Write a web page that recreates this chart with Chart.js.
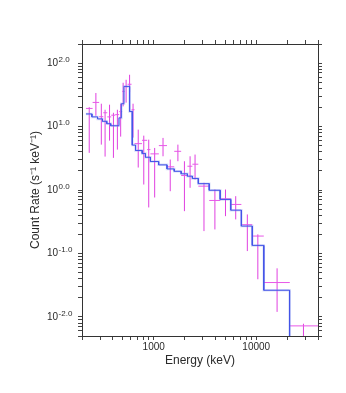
<!DOCTYPE html>
<html><head><meta charset="utf-8">
<script src="https://cdn.jsdelivr.net/npm/chart.js@4.4.1/dist/chart.umd.min.js"></script>
<style>html,body{margin:0;padding:0;background:#fff;}#wrap{width:346px;height:393px;position:relative;}</style>
</head><body><div id="wrap"><canvas id="c" width="346" height="393"></canvas></div>
<script>
// Model (step) bin edges in keV and model count rates
const modelEdges = [218.6, 249.8, 283.6, 316.9, 348.9, 381.3, 458.7, 483.9, 512.8, 582.1, 618.2, 665.3, 772.3, 831.2, 929.1, 1118, 1348, 1586, 1853, 2132, 2384, 2724, 3480, 4446, 5642, 7159, 9147, 11844, 21135, 40000];
const modelValues = [15.8, 14.2, 13.2, 12.1, 11.1, 10.3, 13.7, 22.9, 42.9, 17.3, 5.1, 4.2, 3.75, 3.28, 2.81, 2.49, 2.15, 1.97, 1.80, 1.65, 1.52, 1.26, 0.99, 0.71, 0.481, 0.270, 0.134, 0.0263, 0.003];

// Data points: bin low / high edges, centre energy, rate, upper and lower error limits
const dataLo = [218.6, 253.7, 293.9, 322.6, 352.7, 385.6, 421.5, 460.7, 492.6, 520.7, 556.6, 608.5, 650.6, 768.9, 863.4, 929.1, 1123, 1348, 1586, 1853, 2132, 2384, 2724, 3480, 4467, 5681, 7159, 9147, 11844, 21229];
const dataHi = [253.7, 293.9, 322.6, 352.7, 385.6, 421.5, 460.7, 492.6, 520.7, 556.6, 608.5, 650.6, 768.9, 863.4, 929.1, 1123, 1348, 1586, 1853, 2132, 2384, 2724, 3480, 4467, 5681, 7159, 9147, 11844, 21229, 40000];
const dataE = [235.2, 273.1, 308.6, 335.8, 371.2, 405.0, 442.6, 476.4, 503.6, 538.4, 582.1, 629.2, 706.6, 800.3, 894.5, 1022, 1233, 1450, 1722, 1994, 2264, 2531, 3093, 3952, 5013, 6306, 8185, 10363, 15966, 28863];
const dataRate = [19.3, 24.0, 14.3, 16.5, 14.2, 15.1, 15.4, 17.2, 35.8, 42.4, 46.4, 18.4, 5.38, 6.07, 4.33, 3.71, 5.01, 2.32, 4.07, 1.69, 2.37, 2.55, 1.15, 0.684, 0.727, 0.592, 0.284, 0.188, 0.0348, 0.00722];
const dataUpper = [20.2, 33.8, 22.9, 18.4, 22.1, 16.5, 18.4, 22.9, 49.0, 54.6, 65.5, 22.9, 8.94, 7.19, 6.22, 4.6, 6.62, 3.02, 5.19, 2.84, 3.40, 3.62, 1.30, 1.018, 1.018, 0.799, 0.412, 0.20, 0.0583, 0.0078];
const dataLower = [3.85, 14.8, 5.19, 3.36, 6.00, 3.21, 4.33, 6.94, 20.8, 23.8, 34.1, 6.69, 2.26, 1.22, 0.531, 0.762, 3.40, 0.957, 2.84, 0.464, 1.083, 1.46, 0.225, 0.239, 0.387, 0.344, 0.109, 0.0392, 0.012, 0.001];

// Axis ticks
const xMajor = [1000, 10000];
const xTicks = [200,300,400,500,600,700,800,900,1000,2000,3000,4000,5000,6000,7000,8000,9000,10000,20000,30000,40000];
const yMajor = [0.01, 0.1, 1, 10, 100];
const yMajorExp = ["-2.0", "-1.0", "0.0", "1.0", "2.0"];
const yTicks = [0.005,0.006,0.007,0.008,0.009,0.01,0.02,0.03,0.04,0.05,0.06,0.07,0.08,0.09,0.1,0.2,0.3,0.4,0.5,0.6,0.7,0.8,0.9,1,2,3,4,5,6,7,8,9,10,20,30,40,50,60,70,80,90,100,200];

const FONT = '"Liberation Sans", Arial, Helvetica, sans-serif';
const INK = '#2a2a2a';
const AXIS = '#333';

const modelPts = [];
modelValues.forEach((v, i) => { modelPts.push({x: modelEdges[i], y: v}, {x: modelEdges[i+1], y: v}); });
const hPts = [], vPts = [];
dataE.forEach((e, i) => {
  hPts.push({x: dataLo[i], y: dataRate[i]}, {x: dataHi[i], y: dataRate[i]}, {x: dataHi[i], y: null});
  vPts.push({x: e, y: dataLower[i]}, {x: e, y: dataUpper[i]}, {x: e, y: null});
});

const supLabels = {
  id: 'supLabels',
  afterDraw(chart) {
    const s = chart.scales.y, ctx = chart.ctx;
    ctx.save();
    ctx.fillStyle = INK;
    ctx.textAlign = 'left';
    ctx.textBaseline = 'middle';
    yMajor.forEach((v, i) => {
      const y = s.getPixelForValue(v);
      ctx.font = '10px ' + FONT;
      ctx.fillText('10', 47, y);
      const w = ctx.measureText('10').width;
      ctx.font = '8px ' + FONT;
      ctx.fillText(yMajorExp[i], 47 + w + 0.5, y - 3.5);
    });
    ctx.restore();
  }
};

const gridOpt = {drawOnChartArea: false, tickLength: 4, color: '#444', tickColor: '#444', lineWidth: 1};
const borderOpt = {display: true, color: AXIS, width: 1};
const setX = s => { s.ticks = xTicks.map(v => ({value: v, major: xMajor.includes(v)})); };
const setY = s => { s.ticks = yTicks.map(v => ({value: v, major: yMajor.includes(v)})); };

new Chart(document.getElementById('c'), {
  type: 'scatter',
  data: {
    datasets: [
      {data: hPts, showLine: true, spanGaps: false, borderColor: '#e858e8', borderWidth: 1, pointRadius: 0, order: 3},
      {data: vPts, showLine: true, spanGaps: false, borderColor: '#e040e0', borderWidth: 1, pointRadius: 0, order: 3},
      {data: modelPts, showLine: true, borderColor: 'rgba(140,155,235,0.35)', borderWidth: 2.5, pointRadius: 0, order: 2},
      {data: modelPts, showLine: true, borderColor: '#4354e8', borderWidth: 1, pointRadius: 0, order: 1}
    ]
  },
  options: {
    responsive: false,
    animation: false,
    events: [],
    layout: {padding: {left: 28, right: 24, top: 40, bottom: 25}},
    plugins: {legend: {display: false}, tooltip: {enabled: false}},
    scales: {
      x: {
        type: 'logarithmic', position: 'bottom', min: 200, max: 40000,
        afterBuildTicks: setX,
        afterFit: s => { s.height = 32; },
        ticks: {autoSkip: false, maxRotation: 0, minRotation: 0, padding: 1, color: INK,
          font: {family: FONT, size: 10},
          callback: v => xMajor.includes(v) ? String(v) : ''},
        grid: gridOpt, border: borderOpt,
        title: {display: true, text: 'Energy (keV)', color: INK, padding: 0, font: {family: FONT, size: 12}}
      },
      x2: {
        type: 'logarithmic', position: 'top', min: 200, max: 40000,
        afterBuildTicks: setX,
        afterFit: s => { s.height = 4; },
        ticks: {display: false},
        grid: gridOpt, border: borderOpt
      },
      y: {
        type: 'logarithmic', position: 'left', min: 0.005, max: 200,
        afterBuildTicks: setY,
        afterFit: s => { s.width = 54; },
        ticks: {display: false},
        grid: gridOpt, border: borderOpt,
        title: {display: true, text: 'Count Rate (s\u207B\u00B9 keV\u207B\u00B9)', color: INK, padding: 0, font: {family: FONT, size: 12}}
      },
      y2: {
        type: 'logarithmic', position: 'right', min: 0.005, max: 200,
        afterBuildTicks: setY,
        afterFit: s => { s.width = 4; },
        ticks: {display: false},
        grid: gridOpt, border: borderOpt
      }
    }
  },
  plugins: [supLabels]
});
</script>
</body></html>
